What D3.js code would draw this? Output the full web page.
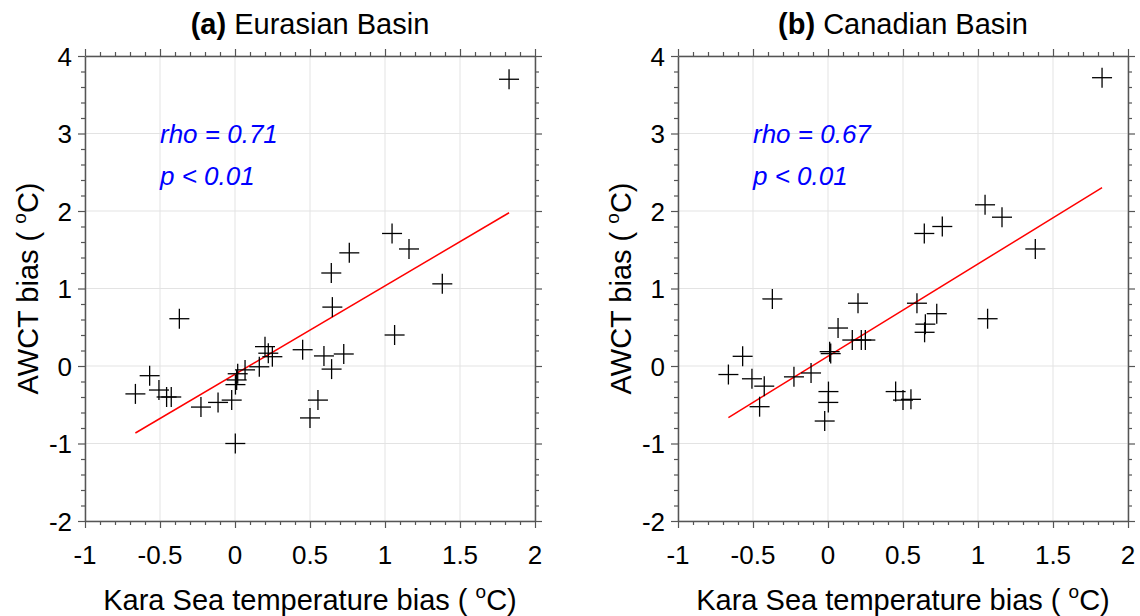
<!DOCTYPE html>
<html>
<head>
<meta charset="utf-8">
<script src="https://cdn.jsdelivr.net/npm/d3@7"></script>
<style>
  body { margin: 0; background: #fff; }
  text { font-family: "Liberation Sans", Arial, sans-serif; }
</style>
</head>
<body>
<div id="chart"></div>
<script>
// Kara Sea temperature bias (shared by both panels)
var karaBias = [1.827, 1.047, 1.16, 0.762, 0.642, 1.382, 0.649, 1.064, 0.451, 0.593, 0.725, 0.644,
                0.50, 0.553, -0.371, -0.569, -0.664, -0.507, -0.456, -0.425, -0.227, -0.113, -0.022, 0.002,
                0.018, 0.011, 0.003, 0.067, 0.162, 0.20, 0.222, 0.249];
// AWCT bias, Eurasian Basin
var eurasian = [3.70, 1.71, 1.51, 1.46, 1.20, 1.06, 0.76, 0.40, 0.21, 0.13, 0.155, -0.04,
                -0.67, -0.44, 0.61, -0.125, -0.36, -0.31, -0.40, -0.40, -0.53, -0.47, -0.44, -1.00,
                -0.10, -0.18, -0.24, -0.05, -0.01, 0.25, 0.165, 0.12];
// AWCT bias, Canadian Basin
var canadian = [3.72, 2.08, 1.92, 1.80, 1.71, 1.51, 0.54, 0.61, -0.33, 0.81, 0.675, 0.435,
                -0.44, -0.43, 0.865, 0.125, -0.11, -0.165, -0.525, -0.26, -0.14, -0.09, -0.71, -0.47,
                0.16, 0.185, -0.33, 0.49, 0.335, 0.81, 0.335, 0.335];
// regression fits [slope, intercept]
var fitA = [1.141, -0.107];
var fitB = [1.191, 0.126];
var xTicks = [-1, -0.5, 0, 0.5, 1, 1.5, 2];
var yTicks = [-2, -1, 0, 1, 2, 3, 4];

var svg = d3.select("#chart").append("svg").attr("width", 1140).attr("height", 616);

function panel(left, yVals, fit, title, letter, rho) {
  var x = d3.scaleLinear().domain([-1, 2]).range([left, left + 450]);
  var y = d3.scaleLinear().domain([-2, 4]).range([521, 56]);
  var g = svg.append("g");

  // grid
  g.selectAll(".gx").data(xTicks).enter().append("line")
    .attr("x1", d => x(d)).attr("x2", d => x(d)).attr("y1", y(-2)).attr("y2", y(4))
    .attr("stroke", "#e3e3e3").attr("stroke-width", 1);
  g.selectAll(".gy").data(yTicks).enter().append("line")
    .attr("y1", d => y(d)).attr("y2", d => y(d)).attr("x1", x(-1)).attr("x2", x(2))
    .attr("stroke", "#e3e3e3").attr("stroke-width", 1);

  // axes on all four sides, outward ticks (minor every 0.1 / 0.2)
  var xMinor = d3.range(-10, 21).map(d => d / 10);
  var yMinor = d3.range(-10, 21).map(d => d / 5);
  var axes = [
    [d3.axisBottom(x), "translate(0," + y(-2) + ")", xMinor, xTicks, "y2", 1],
    [d3.axisTop(x), "translate(0," + y(4) + ")", xMinor, xTicks, "y2", -1],
    [d3.axisLeft(y), "translate(" + x(-1) + ",0)", yMinor, yTicks, "x2", -1],
    [d3.axisRight(y), "translate(" + x(2) + ",0)", yMinor, yTicks, "x2", 1]
  ];
  axes.forEach(function (a) {
    var s = g.append("g").attr("transform", a[1])
      .call(a[0].tickValues(a[2]).tickSizeInner(4).tickSizeOuter(0).tickFormat(""));
    s.selectAll(".tick").filter(d => a[3].some(m => Math.abs(m - d) < 1e-9))
      .select("line").attr(a[4], 7 * a[5]);
    s.selectAll(".tick line").attr("stroke", "#555").attr("stroke-width", 1.2);
    s.select(".domain").attr("stroke", "#555").attr("stroke-width", 1.5);
  });

  // tick labels
  g.selectAll(".xl").data(xTicks).enter().append("text")
    .attr("x", d => x(d)).attr("y", 564).attr("text-anchor", "middle")
    .attr("font-size", 26).text(d => d);
  g.selectAll(".yl").data(yTicks).enter().append("text")
    .attr("x", x(-1) - 13).attr("y", d => y(d) + 9.5).attr("text-anchor", "end")
    .attr("font-size", 26).text(d => d);

  // regression line
  var x0 = d3.min(karaBias), x1 = d3.max(karaBias);
  g.append("line")
    .attr("x1", x(x0)).attr("y1", y(fit[0] * x0 + fit[1]))
    .attr("x2", x(x1)).attr("y2", y(fit[0] * x1 + fit[1]))
    .attr("stroke", "#ff0000").attr("stroke-width", 1.5);

  // plus markers
  var pts = karaBias.map((d, i) => [d, yVals[i]]);
  var m = g.selectAll(".pt").data(pts).enter().append("g")
    .attr("transform", d => "translate(" + x(d[0]) + "," + y(d[1]) + ")");
  m.append("line").attr("x1", -10).attr("x2", 10).attr("stroke", "#000").attr("stroke-width", 1.3);
  m.append("line").attr("y1", -10).attr("y2", 10).attr("stroke", "#000").attr("stroke-width", 1.3);

  // stats
  g.append("text").attr("x", x(-0.5)).attr("y", 143).attr("font-size", 26)
    .attr("font-style", "italic").attr("fill", "#0000ff").text("rho = " + rho);
  g.append("text").attr("x", x(-0.5)).attr("y", 185).attr("font-size", 26)
    .attr("font-style", "italic").attr("fill", "#0000ff").text("p < 0.01");

  // title
  var t = g.append("text").attr("x", x(0.5)).attr("y", 34).attr("text-anchor", "middle").attr("font-size", 29);
  t.append("tspan").attr("font-weight", "bold").text(letter);
  t.append("tspan").text(" " + title);

  // axis titles
  var xt = g.append("text").attr("x", x(0.5)).attr("y", 610).attr("text-anchor", "middle").attr("font-size", 29);
  xt.append("tspan").text("Kara Sea temperature bias ( ");
  xt.append("tspan").attr("dy", -12).attr("font-size", 19).text("o");
  xt.append("tspan").attr("dy", 12).text("C)");

  var yt = g.append("text").attr("transform", "translate(" + (left - 47) + "," + y(1) + ") rotate(-90)")
    .attr("text-anchor", "middle").attr("font-size", 29);
  yt.append("tspan").text("AWCT bias ( ");
  yt.append("tspan").attr("dy", -12).attr("font-size", 19).text("o");
  yt.append("tspan").attr("dy", 12).text("C)");
}

panel(85, eurasian, fitA, "Eurasian Basin", "(a)", "0.71");
panel(678, canadian, fitB, "Canadian Basin", "(b)", "0.67");
</script>
</body>
</html>
